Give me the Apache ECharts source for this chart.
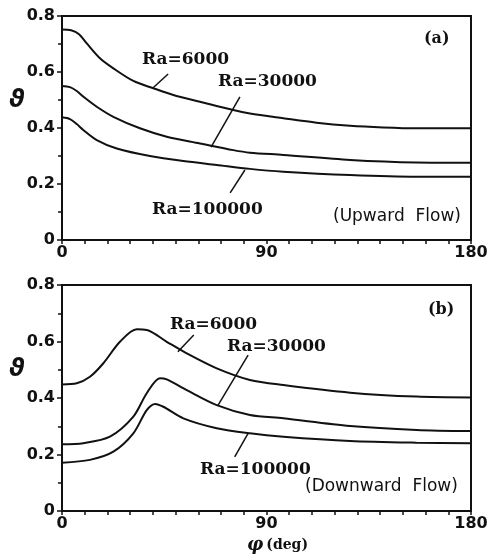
<!DOCTYPE html>
<html lang="en">
<head>
    <meta charset="UTF-8">
    <title>Upward / Downward flow</title>
    <script src="https://cdn.jsdelivr.net/npm/echarts@6/dist/echarts.min.js"></script>
</head>
<body style="margin:0">

<div id="main" style="width: 499px;height:555px;position:absolute"></div>

<script type="text/javascript">
    // [phi (deg), theta]
    var upward6000 = [[0, 0.752], [4, 0.749], [7.5, 0.735], [10.9, 0.702], [16.7, 0.649], [22.6, 0.613], [31.4, 0.568],
        [40.2, 0.542], [49, 0.518], [60.7, 0.494], [75.4, 0.464], [82.7, 0.452], [97.4, 0.435],
        [112, 0.419], [126.8, 0.408], [141.4, 0.402], [156, 0.399], [180, 0.399]];
    var upward30000 = [[0, 0.55], [3.5, 0.546], [6.5, 0.532], [9.4, 0.512], [15.3, 0.476], [22.6, 0.44], [34.3, 0.399],
        [46.1, 0.369], [60.7, 0.345], [75.4, 0.321], [82.7, 0.312], [97.4, 0.304], [126.8, 0.286],
        [156, 0.277], [180, 0.276]];
    var upward100000 = [[0, 0.438], [3.5, 0.432], [6.5, 0.414], [9.4, 0.393], [15.3, 0.357], [24.1, 0.327], [38.7, 0.3],
        [53.4, 0.282], [68.1, 0.268], [82.7, 0.254], [97.4, 0.244], [126.8, 0.232], [156, 0.226], [180, 0.226]];

    var downward6000 = [[0, 0.448], [6.5, 0.452], [12.3, 0.475], [18.2, 0.523], [25.5, 0.599], [32.9, 0.643],
        [37.3, 0.641], [46.1, 0.599], [54.9, 0.558], [68.1, 0.505], [82.7, 0.464], [97.4, 0.446],
        [126.8, 0.419], [156, 0.405], [180, 0.402]];
    var downward30000 = [[0, 0.236], [9.4, 0.24], [21.1, 0.263], [31.4, 0.334], [37.3, 0.417], [43.1, 0.47],
        [46.1, 0.466], [54.9, 0.428], [68.1, 0.375], [82.7, 0.34], [97.4, 0.328], [126.8, 0.301],
        [156, 0.287], [180, 0.283]];
    var downward100000 = [[0, 0.171], [12.3, 0.181], [22.6, 0.21], [31.4, 0.275], [37.3, 0.357], [41, 0.379],
        [44.6, 0.369], [53.4, 0.328], [68.1, 0.293], [82.7, 0.275], [97.4, 0.263], [126.8, 0.248],
        [156, 0.242], [180, 0.24]];

    // leader lines from curve labels to curves, [[phi, theta], [phi, theta]]
    var leadersTop = [
        [[40, 0.543], [46.7, 0.593]],
        [[65.6, 0.332], [78.3, 0.511]],
        [[74, 0.168], [80.5, 0.25]]
    ];
    var leadersBottom = [
        [[51, 0.564], [58, 0.623]],
        [[68.7, 0.375], [81.9, 0.552]],
        [[76, 0.192], [81.9, 0.275]]
    ];

    var xTicks = [0, 90, 180];
    var yTicks = [0, 0.2, 0.4, 0.6, 0.8];

    var ink = '#111';
    var myChart = echarts.init(document.getElementById('main'));

    function xAxisFor(gridIndex) {
        return {
            gridIndex: gridIndex,
            type: 'value',
            min: xTicks[0],
            max: xTicks[xTicks.length - 1],
            interval: xTicks[1] - xTicks[0],
            axisLine: {lineStyle: {color: ink, width: 2}},
            axisTick: {length: 4, lineStyle: {color: ink, width: 1.5}},
            minorTick: {show: true, splitNumber: 9, length: 4, lineStyle: {color: ink, width: 1.5}},
            axisLabel: {color: ink, fontFamily: 'DejaVu Sans', fontWeight: 'bold', fontSize: 16, margin: 5},
            splitLine: {show: false}
        };
    }

    function yAxisFor(gridIndex) {
        return {
            gridIndex: gridIndex,
            type: 'value',
            min: yTicks[0],
            max: yTicks[yTicks.length - 1],
            interval: yTicks[1] - yTicks[0],
            axisLine: {show: true, lineStyle: {color: ink, width: 2}},
            axisTick: {show: true, length: 5, lineStyle: {color: ink, width: 1.5}},
            minorTick: {show: true, splitNumber: 2, length: 4, lineStyle: {color: ink, width: 1.5}},
            axisLabel: {color: ink, fontFamily: 'DejaVu Sans', fontWeight: 'bold', fontSize: 16, margin: 7},
            splitLine: {show: false}
        };
    }

    function curve(data, idx, leaders) {
        var s = {
            type: 'line',
            xAxisIndex: idx,
            yAxisIndex: idx,
            data: data,
            smooth: 0.3,
            symbol: 'none',
            lineStyle: {color: ink, width: 2},
            silent: true
        };
        if (leaders) {
            s.markLine = {
                silent: true,
                symbol: 'none',
                label: {show: false},
                lineStyle: {color: ink, width: 1.5, type: 'solid'},
                data: [[{coord: leaders[0]}, {coord: leaders[1]}]]
            };
        }
        return s;
    }

    // x = left edge, y = vertical middle of the text
    function txt(x, y, text, font) {
        return {
            type: 'text',
            x: x,
            y: y,
            style: {text: text, fill: ink, font: font, verticalAlign: 'middle'}
        };
    }

    var serif = 'bold 17px "DejaVu Serif"';
    var sans = '17px "DejaVu Sans"';
    var thetaFont = 'bold oblique 24px "DejaVu Sans"';

    option = {
        animation: false,
        backgroundColor: '#fff',
        grid: [
            {left: 62, top: 16, width: 409, height: 224, show: true, borderColor: ink, borderWidth: 2},
            {left: 62, top: 285, width: 409, height: 226, show: true, borderColor: ink, borderWidth: 2}
        ],
        xAxis: [xAxisFor(0), xAxisFor(1)],
        yAxis: [yAxisFor(0), yAxisFor(1)],
        series: [
            curve(upward6000, 0, leadersTop[0]),
            curve(upward30000, 0, leadersTop[1]),
            curve(upward100000, 0, leadersTop[2]),
            curve(downward6000, 1, leadersBottom[0]),
            curve(downward30000, 1, leadersBottom[1]),
            curve(downward100000, 1, leadersBottom[2])
        ],
        graphic: [
            txt(142, 60, 'Ra=6000', serif),
            txt(218, 82, 'Ra=30000', serif),
            txt(152, 210, 'Ra=100000', serif),
            txt(424, 39, '(a)', 'bold 16px "DejaVu Serif"'),
            txt(333, 217, '(Upward  Flow)', sans),
            txt(170, 325, 'Ra=6000', serif),
            txt(227, 347, 'Ra=30000', serif),
            txt(200, 470, 'Ra=100000', serif),
            txt(428, 310, '(b)', 'bold 16px "DejaVu Serif"'),
            txt(305, 487, '(Downward  Flow)', sans),
            txt(9, 101, 'ϑ', thetaFont),
            txt(9, 370, 'ϑ', thetaFont),
            {
                type: 'text',
                x: 247,
                y: 545,
                style: {
                    text: '{p|φ}{d|(deg)}',
                    verticalAlign: 'middle',
                    rich: {
                        p: {fill: ink, font: 'bold italic 18px "DejaVu Serif"', padding: [0, 3, 0, 0]},
                        d: {fill: ink, font: 'bold 14px "DejaVu Serif"'}
                    }
                }
            }
        ]
    };

    myChart.setOption(option);
</script>
</body>
</html>
